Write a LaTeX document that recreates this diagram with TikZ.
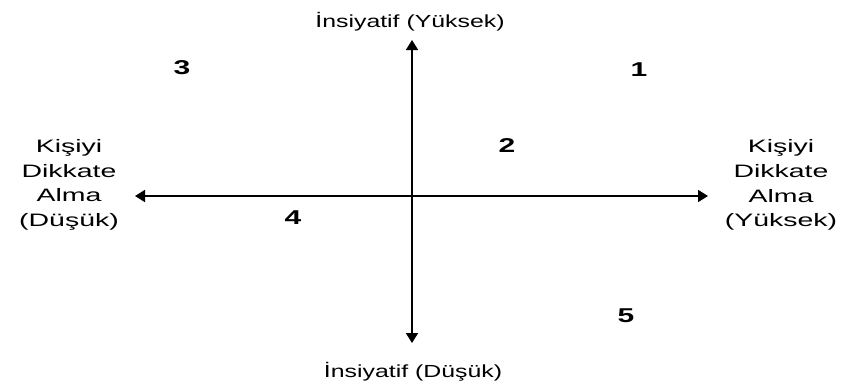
\documentclass[tikz,border=0pt]{standalone}
\usepackage{fontspec}
\setmainfont{Liberation Sans}
\newfontfamily\axisfont[FakeStretch=1.42]{Liberation Sans}
\newfontfamily\sidefont[FakeStretch=1.58]{Liberation Sans}
\newfontfamily\numfont[FakeStretch=1.5]{Liberation Sans Bold}
\usetikzlibrary{arrows.meta,positioning}

\begin{document}
\begin{tikzpicture}[
    x=1pt, y=-1pt,
    axis/.style={<->, line width=1.7pt, >={Triangle[length=10pt,width=12pt]}},
    title/.style={anchor=base, inner sep=0pt, font=\axisfont\fontsize{17.5}{20}\selectfont},
    side/.style={align=center, inner sep=0pt, font=\sidefont\fontsize{18}{24.7}\selectfont},
    num/.style={inner sep=0pt, font=\numfont\fontsize{20}{22}\selectfont}
]
    \useasboundingbox (0,0) rectangle (848,389);

    \node[title] (top) at (410,27) {İnsiyatif (Yüksek)};
    \node[title] (bot) at (413,377) {İnsiyatif (Düşük)};
    \node[side] (left) at (69,185) {Kişiyi\\Dikkate\\Alma\\(Düşük)};
    \node[side] (right) at (781,185) {Kişiyi\\Dikkate\\Alma\\(Yüksek)};

    \coordinate (n) at (412,40);
    \coordinate (s) at (412,343);
    \coordinate (w) at (135,196);
    \coordinate (e) at (708,196);
    \draw[axis] (s) -- (n);
    \draw[axis] (w) -- (e);

    \node[num] (q1) at (639,70) {1};
    \node[num] (q2) at (507,146) {2};
    \node[num] (q3) at (182,68) {3};
    \node[num] (q4) at (293,218) {4};
    \node[num] (q5) at (626,316) {5};
\end{tikzpicture}
\end{document}
